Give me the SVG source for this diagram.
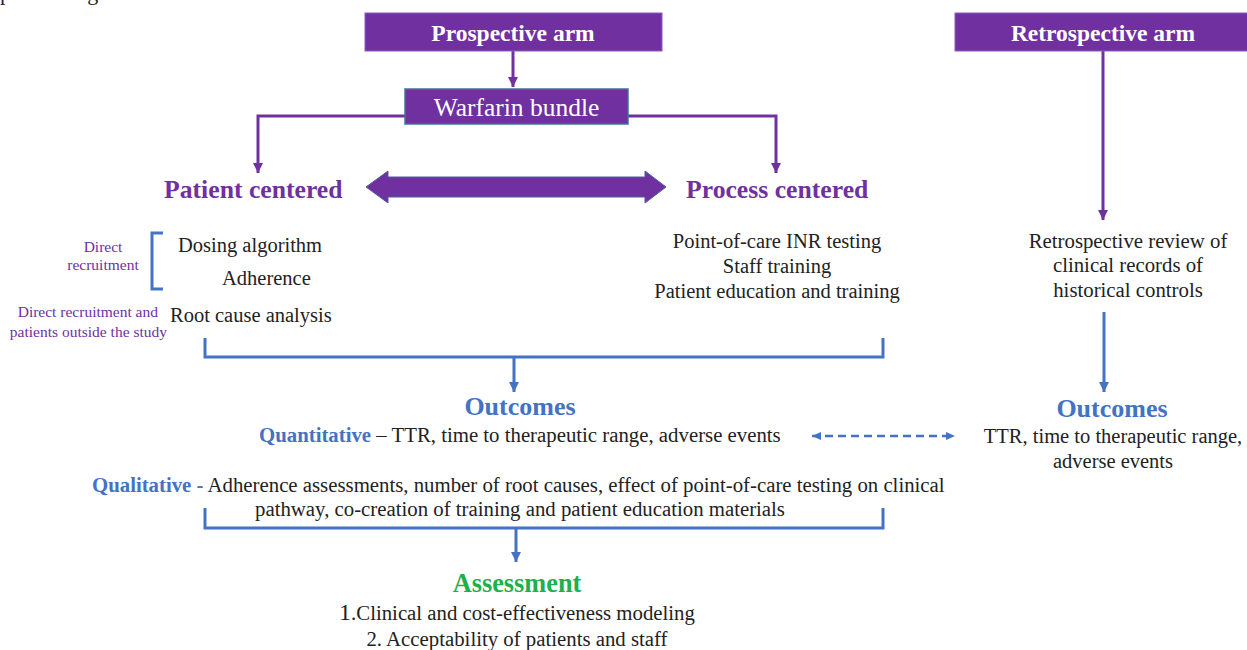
<svg xmlns="http://www.w3.org/2000/svg" width="1247" height="650" viewBox="0 0 1247 650">
<style>
text{font-family:"Liberation Serif","Times New Roman",serif;fill:#222}
.hdr{font-weight:bold;font-size:23.5px;fill:#fff}
.sub{font-weight:bold;font-size:25.7px;fill:#7030a0}
.body{font-size:20.5px}
.main{font-size:20.8px}
.note{font-size:15.5px;fill:#7030a0}
.oc{font-weight:bold;font-size:26px;fill:#4472c4}
.blue{font-weight:bold;fill:#4472c4}
.pbox{fill:#7030a0;stroke:#8a5cbb;stroke-width:1}
.pl{fill:none;stroke:#7030a0;stroke-width:3}
.bl{fill:none;stroke:#4472c4;stroke-width:3}
</style>
<defs>
<marker id="ap" markerUnits="userSpaceOnUse" markerWidth="12" markerHeight="12" refX="10" refY="6" orient="auto"><path d="M0,1 L10,6 L0,11 Z" fill="#7030a0"/></marker>
<marker id="ab" markerUnits="userSpaceOnUse" markerWidth="12" markerHeight="12" refX="10" refY="6" orient="auto"><path d="M0,1 L10,6 L0,11 Z" fill="#4472c4"/></marker>
<marker id="abs" markerUnits="userSpaceOnUse" markerWidth="10" markerHeight="10" refX="9" refY="5" orient="auto-start-reverse"><path d="M0,1 L9,5 L0,9 Z" fill="#4472c4"/></marker>
</defs>
<text x="0" y="0" style="font-size:22px">peutic range.</text>
<g id="connectors">
<line class="pl" x1="513" y1="51" x2="513" y2="87" marker-end="url(#ap)"/>
<path class="pl" d="M405,116 H258 V173" marker-end="url(#ap)"/>
<path class="pl" d="M628,116 H776 V173" marker-end="url(#ap)"/>
<polygon points="366,187 388,171 388,177 645,177 645,171 666,187 645,203 645,197 388,197 388,203" fill="#7030a0" stroke="#4f5f9a" stroke-width="1"/>
<line class="pl" x1="1103" y1="51" x2="1103" y2="220" marker-end="url(#ap)"/>
<line class="bl" x1="1104" y1="312" x2="1104" y2="392" marker-end="url(#ab)"/>
<path class="bl" d="M163,233 H152 V289 H163"/>
<path class="bl" d="M205,338 V357 H883 V338"/>
<line class="bl" x1="514" y1="357" x2="514" y2="392" marker-end="url(#ab)"/>
<line x1="812" y1="436" x2="955" y2="436" stroke="#4472c4" stroke-width="2.5" stroke-dasharray="8 5" marker-start="url(#abs)" marker-end="url(#abs)"/>
<path class="bl" d="M205,508 V528 H883 V508"/>
<line class="bl" x1="516" y1="528" x2="516" y2="562" marker-end="url(#ab)"/>
</g>
<g id="prospective">
<rect class="pbox" x="365" y="13" width="297" height="38"/>
<text class="hdr" x="513" y="41" text-anchor="middle">Prospective arm</text>
</g>
<g id="warfarin">
<rect x="405" y="89" width="223" height="35" fill="#7030a0" stroke="#41719c" stroke-width="1.5"/>
<text x="516.5" y="116" text-anchor="middle" style="font-size:25.5px;fill:#fff">Warfarin bundle</text>
</g>
<g id="retrospective">
<rect class="pbox" x="955" y="13" width="294" height="38"/>
<text class="hdr" x="1103" y="41" text-anchor="middle">Retrospective arm</text>
</g>
<g id="patient-centered">
<text class="sub" x="164" y="198">Patient centered</text>
<text class="note" x="103" y="252" text-anchor="middle">Direct</text>
<text class="note" x="103" y="270" text-anchor="middle">recruitment</text>
<text class="body" x="178" y="252">Dosing algorithm</text>
<text class="body" x="222" y="285">Adherence</text>
<text class="note" x="158" y="317" text-anchor="end">Direct recruitment and</text>
<text class="note" x="167" y="337" text-anchor="end">patients outside the study</text>
<text class="body" x="170" y="322">Root cause analysis</text>
</g>
<g id="process-centered">
<text class="sub" x="686" y="198">Process centered</text>
<text class="body" x="777" y="248" text-anchor="middle">Point-of-care INR testing</text>
<text class="body" x="777" y="273" text-anchor="middle">Staff training</text>
<text class="body" x="777" y="298" text-anchor="middle">Patient education and training</text>
</g>
<g id="retro-review">
<text class="main" x="1128" y="248" text-anchor="middle">Retrospective review of</text>
<text class="main" x="1128" y="272" text-anchor="middle">clinical records of</text>
<text class="main" x="1128" y="297" text-anchor="middle">historical controls</text>
</g>
<g id="retro-outcomes">
<text class="oc" x="1112" y="417" text-anchor="middle">Outcomes</text>
<text class="body" x="1113" y="443" text-anchor="middle">TTR, time to therapeutic range,</text>
<text class="body" x="1113" y="468" text-anchor="middle">adverse events</text>
</g>
<g id="outcomes">
<text class="oc" x="520" y="415" text-anchor="middle">Outcomes</text>
<text class="main" x="259" y="442"><tspan class="blue">Quantitative</tspan> – TTR, time to therapeutic range, adverse events</text>
<text class="main" x="92" y="492"><tspan class="blue">Qualitative -</tspan> Adherence assessments, number of root causes, effect of point-of-care testing on clinical</text>
<text class="main" x="520" y="516" text-anchor="middle">pathway, co-creation of training and patient education materials</text>
</g>
<g id="assessment">
<text x="517" y="592" text-anchor="middle" style="font-weight:bold;font-size:26.3px;fill:#1db04b">Assessment</text>
<text class="main" x="517" y="620" text-anchor="middle"><tspan style="font-size:24px">1</tspan>.Clinical and cost-effectiveness modeling</text>
<text class="main" x="517" y="646" text-anchor="middle">2. Acceptability of patients and staff</text>
</g>
</svg>
